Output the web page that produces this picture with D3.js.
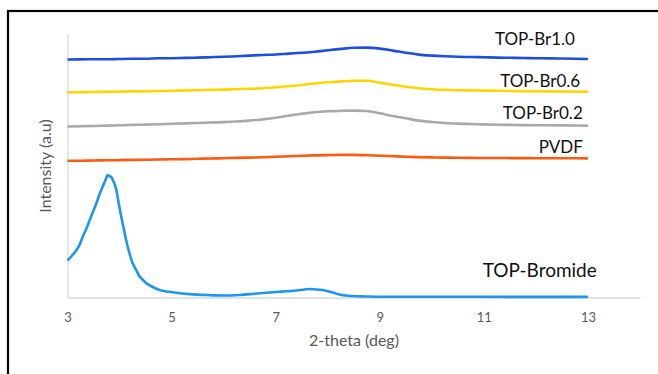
<!DOCTYPE html>
<html>
<head>
<meta charset="utf-8">
<script src="https://cdn.jsdelivr.net/npm/d3@7"></script>
<style>
  html, body { margin: 0; padding: 0; background: #fff; }
  svg { display: block; }
</style>
</head>
<body>
<svg id="chart" width="658" height="374"></svg>
<script>
// 2-theta grid (deg) shared by the four film patterns
const theta = [3, 3.25, 3.5, 3.75, 4, 4.25, 4.5, 4.75, 5, 5.25, 5.5, 5.75, 6, 6.25, 6.5, 6.75,
  7, 7.25, 7.5, 7.75, 8, 8.25, 8.5, 8.75, 9, 9.25, 9.5, 9.75, 10, 10.25, 10.5, 10.75,
  11, 11.25, 11.5, 11.75, 12, 12.25, 12.5, 12.75, 13];

// Intensities (a.u., offset traces)
const topBr10 = [237.5, 237.6, 237.8, 237.7, 238.0, 238.2, 238.3, 238.7, 238.8, 239.1, 239.4, 239.8,
  240.2, 240.8, 241.4, 242.0, 242.5, 243.4, 244.2, 245.2, 246.7, 248.1, 249.2, 249.4, 248.4,
  246.4, 244.2, 242.4, 241.4, 240.7, 240.2, 240.0, 239.7, 239.4, 239.2, 239.0, 238.8, 238.6,
  238.5, 238.3, 238.0];
const topBr06 = [204.6, 204.8, 205.0, 205.2, 205.4, 205.6, 205.8, 206.0, 206.2, 206.5, 206.8, 207.1,
  207.4, 207.8, 208.2, 208.8, 209.7, 210.7, 212.0, 213.5, 214.7, 215.6, 216.2, 216.2, 214.4,
  212.2, 210.3, 208.8, 207.8, 207.2, 206.8, 206.6, 206.4, 206.2, 206.0, 205.8, 205.7, 205.6,
  205.5, 205.4, 205.2];
const topBr02 = [170.5, 170.8, 171.0, 171.4, 171.7, 172.1, 172.4, 172.8, 173.2, 173.6, 174.0, 174.5,
  174.9, 175.5, 176.4, 177.6, 179.3, 181.3, 183.2, 184.8, 185.7, 186.1, 186.4, 186.0, 183.7,
  181.0, 178.7, 176.4, 175.0, 174.0, 173.4, 173.0, 172.6, 172.3, 172.1, 171.9, 171.8, 171.7,
  171.6, 171.5, 171.3];
const pvdf = [136.2, 136.3, 136.5, 136.7, 136.9, 137.1, 137.3, 137.5, 137.7, 137.9, 138.2, 138.5,
  138.8, 139.1, 139.4, 139.7, 140.2, 140.7, 141.2, 141.6, 141.9, 142.1, 142.1, 141.8, 141.3,
  140.8, 140.3, 139.9, 139.6, 139.4, 139.2, 139.1, 139.0, 139.0, 138.9, 138.9, 138.8, 138.8,
  138.7, 138.7, 138.6];

// TOP-Bromide powder, sampled more finely around its low-angle peak
const bromideTheta = [3.00, 3.08, 3.16, 3.23, 3.29, 3.36, 3.42, 3.48, 3.55, 3.61, 3.68, 3.73, 3.77,
  3.80, 3.84, 3.88, 3.93, 3.98, 4.03, 4.09, 4.14, 4.20, 4.25, 4.32, 4.38, 4.45, 4.51, 4.62,
  4.77, 4.95, 5.15, 5.40, 5.66, 6.00, 6.30, 6.60, 6.82, 7.00, 7.20, 7.40, 7.55, 7.64, 7.80,
  7.97, 8.10, 8.22, 8.40, 8.74, 9.00, 10.0, 11.0, 12.0, 13.0];
const topBromide = [36.5, 41, 46, 52, 60, 68, 76, 84, 93, 102, 111, 117, 122,
  121, 120, 116, 109, 95, 81, 66, 54, 42, 34, 27, 21, 17, 14, 10.5,
  7, 5.2, 3.7, 2.6, 2.0, 1.5, 2.0, 3.3, 4.3, 5.0, 5.7, 6.5, 7.5, 8.0, 7.5,
  6.3, 4.5, 2.5, 1.2, 0.5, 0.2, 0.2, 0.2, 0.1, 0.1];

const xTicks = [3, 5, 7, 9, 11, 13];
const seriesNames = ["TOP-Br1.0", "TOP-Br0.6", "TOP-Br0.2", "PVDF", "TOP-Bromide"];

// Chart assembly
const series = [
  { name: seriesNames[0], x: theta, y: topBr10, color: "#1d4fdf" },
  { name: seriesNames[1], x: theta, y: topBr06, color: "#ffd500" },
  { name: seriesNames[2], x: theta, y: topBr02, color: "#a9a9a9" },
  { name: seriesNames[3], x: theta, y: pvdf, color: "#ff5a10" },
  { name: seriesNames[4], x: bromideTheta, y: topBromide, color: "#1d96ee" }
];

// label anchors: right edge (deg), vertical centre (a.u.), font size
const labelAt = {
  "TOP-Br1.0": [12.75, 258, 17],
  "TOP-Br0.6": [12.85, 216, 17],
  "TOP-Br0.2": [12.9, 184, 17],
  "PVDF": [12.9, 150, 17],
  "TOP-Bromide": [13.17, 27, 19]
};

const svg = d3.select("#chart");
const W = 658, H = 374;
const plot = { left: 67.5, right: 640, top: 34, bottom: 297 };

svg.append("rect").attr("width", W).attr("height", H).attr("fill", "#fff");
// outer frame
svg.append("rect")
  .attr("x", 8).attr("y", 11)
  .attr("width", W + 10).attr("height", H + 10)
  .attr("fill", "none").attr("stroke", "#000").attr("stroke-width", 2.2);

const x = d3.scaleLinear().domain([3, 14]).range([plot.left, plot.right]);
const y = d3.scaleLinear().domain([0, 263]).range([plot.bottom, plot.top]);

const font = "Lato, 'Open Sans', sans-serif";

// axes
const xAxis = svg.append("g")
  .attr("transform", `translate(0,${plot.bottom + 0.5})`)
  .call(d3.axisBottom(x).tickValues(xTicks).tickSize(0).tickPadding(15).tickFormat(d3.format("d")));
xAxis.select(".domain").attr("stroke", "#d9d9d9").attr("stroke-width", 1.3);
xAxis.selectAll("text").attr("fill", "#595959").style("font-family", font).style("font-size", "13px");

const yAxis = svg.append("g")
  .attr("transform", `translate(${plot.left},0)`)
  .call(d3.axisLeft(y).tickValues([]).tickSize(0));
yAxis.select(".domain").attr("stroke", "#d9d9d9").attr("stroke-width", 1.3);

// axis titles
svg.append("text")
  .attr("x", 354).attr("y", 340).attr("dy", "0.35em")
  .attr("text-anchor", "middle")
  .attr("fill", "#595959")
  .style("font-family", font).style("font-size", "16px")
  .text("2-theta (deg)");
svg.append("text")
  .attr("transform", "translate(45,166) rotate(-90)")
  .attr("dy", "0.35em")
  .attr("text-anchor", "middle")
  .attr("fill", "#595959")
  .style("font-family", font).style("font-size", "16px")
  .text("Intensity (a.u)");

// traces
const line = d3.line()
  .x(d => x(d[0]))
  .y(d => y(d[1]))
  .curve(d3.curveMonotoneX);

series.forEach(s => {
  const pts = s.x.map((t, i) => [t, s.y[i]]);
  svg.append("path")
    .datum(pts)
    .attr("d", line)
    .attr("fill", "none")
    .attr("stroke", s.color)
    .attr("stroke-width", 2.6)
    .attr("stroke-linejoin", "round");
});

// trace labels
series.forEach(s => {
  const [lx, ly, fs] = labelAt[s.name];
  svg.append("text")
    .attr("x", x(lx)).attr("y", y(ly)).attr("dy", "0.35em")
    .attr("text-anchor", "end")
    .attr("fill", "#111")
    .style("font-family", font).style("font-size", fs + "px")
    .text(s.name);
});
</script>
</body>
</html>
